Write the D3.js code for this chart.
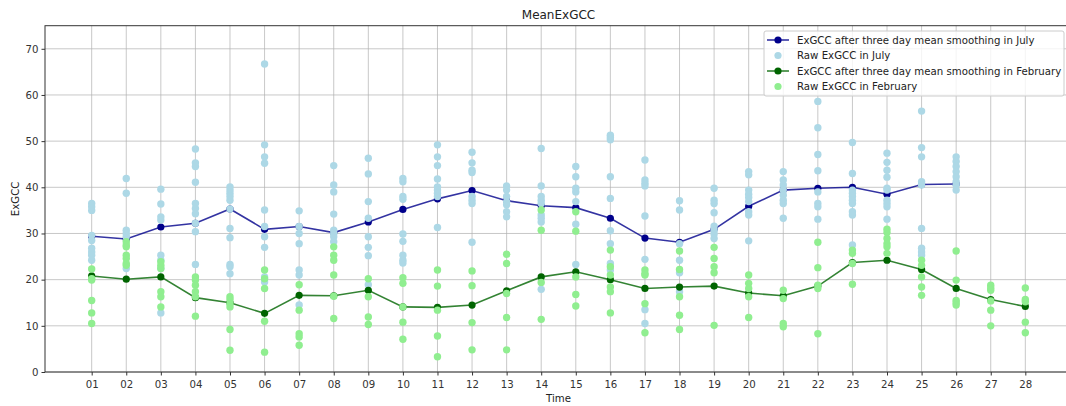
<!DOCTYPE html>
<html>
<head>
<meta charset="utf-8">
<script src="https://cdn.jsdelivr.net/npm/d3@7"></script>
<style>
  body { margin: 0; background: #fff; }
  svg { display: block; font-family: "DejaVu Sans", sans-serif; }
</style>
</head>
<body>
<svg id="chart"></svg>
<script>
const days = ["01","02","03","04","05","06","07","08","09","10","11","12","13","14",
  "15","16","17","18","19","20","21","22","23","24","25","26","27","28"];

const yTicks = [0, 10, 20, 30, 40, 50, 60, 70];

// smoothed means
const julySmooth = [29.4, 28.8, 31.4, 32.2, 35.3, 30.9, 31.5, 30.2, 32.5, 35.2, 37.5, 39.3, 37.1,
  36.0, 35.6, 33.3, 29.0, 28.1, 30.9, 35.9, 39.4, 39.8, 40.0, 38.5, 40.6, 40.7];
const febSmooth = [20.8, 20.1, 20.6, 16.1, 15.0, 12.7, 16.6, 16.5, 17.7, 14.1, 14.0, 14.5, 17.6,
  20.6, 21.7, 20.0, 18.1, 18.4, 18.6, 17.1, 16.5, 18.6, 23.7, 24.2, 22.2, 18.1, 15.7, 14.2];

// raw values per day
const julyRaw = [
  [36.5, 35.8, 35.0, 29.6, 28.5, 26.8, 26.0, 25.3, 24.2],
  [41.9, 38.7, 30.7, 30.0, 29.3, 22.4],
  [39.6, 36.4, 33.6, 32.9, 25.3, 24.2, 22.4, 12.8],
  [48.3, 45.3, 44.5, 41.1, 36.5, 35.4, 34.3, 32.2, 30.4, 23.3],
  [40.1, 39.4, 38.7, 38.0, 37.2, 35.3, 31.1, 29.1, 23.3, 22.8, 21.3],
  [66.7, 49.2, 46.6, 45.2, 35.1, 31.5, 29.3, 27.0, 20.6, 19.5],
  [34.9, 31.5, 30.0, 27.8, 22.1, 21.0, 14.5],
  [44.7, 40.5, 39.0, 34.2, 30.7, 30.0, 29.3, 28.2],
  [46.3, 42.9, 36.9, 33.3, 29.3, 27.0, 25.2, 18.9],
  [41.9, 41.2, 38.0, 37.4, 29.9, 28.3, 25.3, 24.2, 23.6],
  [49.2, 46.6, 44.7, 41.8, 40.1, 39.4, 38.7, 38.0, 31.3],
  [47.6, 45.3, 43.7, 43.2, 38.0, 37.2, 36.5, 28.1],
  [40.3, 39.4, 38.0, 36.9, 36.2, 34.7, 33.6],
  [48.4, 40.3, 38.0, 37.2, 36.5, 34.0, 33.3, 32.5, 17.9],
  [44.5, 42.3, 39.8, 39.0, 36.9, 32.0, 23.3],
  [51.3, 50.8, 50.3, 42.3, 37.6, 30.6, 27.8, 23.5, 22.1],
  [45.9, 41.6, 40.9, 40.3, 33.8, 24.4, 13.5, 10.5],
  [37.1, 35.1, 27.8, 24.2, 21.5, 17.4],
  [39.8, 37.2, 36.5, 34.5, 31.6, 30.7, 29.9, 28.9],
  [43.4, 42.7, 39.4, 38.5, 37.8, 36.9, 34.7, 34.0, 28.4],
  [43.4, 41.6, 40.5, 39.4, 38.3, 37.2, 36.5, 33.3],
  [58.6, 52.9, 47.1, 43.6, 39.0, 36.5, 35.8, 33.1],
  [49.7, 43.0, 39.4, 38.7, 38.0, 37.2, 36.5, 34.7, 34.0, 27.5],
  [47.4, 45.4, 43.7, 42.2, 39.8, 39.4, 37.2, 36.5, 35.8, 33.1],
  [56.5, 48.6, 46.6, 41.2, 40.5, 31.1, 26.8, 26.0, 25.3],
  [46.6, 45.6, 44.5, 43.4, 42.3, 41.2, 40.5, 39.4]
];

const febRaw = [
  [22.3, 20.2, 19.9, 15.5, 12.8, 10.5],
  [28.2, 27.5, 27.1, 25.3, 24.6, 23.5, 23.1],
  [23.9, 23.1, 22.4, 17.4, 16.3, 14.1],
  [20.6, 19.9, 18.8, 17.4, 16.3, 12.1],
  [16.3, 15.7, 14.8, 14.1, 9.2, 4.7],
  [22.1, 20.2, 18.1, 11.0, 4.3],
  [18.9, 13.4, 8.3, 7.6, 5.8],
  [27.1, 25.3, 24.2, 21.0, 16.4, 11.6],
  [20.2, 16.3, 11.9, 10.3],
  [20.4, 19.2, 14.1, 10.8, 7.1],
  [22.1, 18.6, 13.4, 7.8, 3.3],
  [21.9, 18.7, 10.7, 4.8],
  [25.5, 23.5, 17.0, 11.8, 4.8],
  [35.1, 30.7, 19.4, 11.4],
  [34.7, 30.5, 20.6, 16.8, 14.3],
  [26.4, 22.8, 21.0, 18.4, 17.4, 12.8],
  [22.1, 21.3, 21.0, 14.8, 8.5],
  [26.2, 22.2, 16.3, 12.3, 9.2],
  [27.0, 24.6, 22.8, 21.5, 10.1],
  [21.0, 19.2, 18.1, 16.3, 11.8],
  [17.7, 15.9, 10.5, 9.8],
  [28.1, 22.6, 18.8, 18.1, 8.3],
  [26.4, 25.7, 23.5, 19.0],
  [30.9, 30.2, 28.9, 27.8, 27.1, 25.7],
  [24.2, 23.1, 20.6, 18.4, 16.6],
  [26.2, 19.9, 15.5, 15.0, 14.5],
  [18.8, 18.2, 17.7, 15.4, 13.4, 10.0],
  [18.2, 15.7, 15.2, 10.8, 8.5]
];

const seriesNames = [
  "ExGCC after three day mean smoothing in July",
  "Raw ExGCC in July",
  "ExGCC after three day mean smoothing in February",
  "Raw ExGCC in February"
];

const W = 1066, H = 406;
const plot = { left: 45, right: 1072, top: 25.7, bottom: 372 };

const svg = d3.select("#chart").attr("width", W).attr("height", H);
svg.append("rect").attr("width", W).attr("height", H).attr("fill", "#fff");

// matplotlib-style 5% margin around days 1..28
const x = d3.scaleLinear().domain([1 - 1.35, 28 + 1.35]).range([plot.left, plot.right]);
const y = d3.scaleLinear().domain([0, 75]).range([plot.bottom, plot.top]);

// grid
svg.append("g")
  .selectAll("line")
  .data(days)
  .join("line")
  .attr("x1", (d, i) => x(i + 1)).attr("x2", (d, i) => x(i + 1))
  .attr("y1", plot.top).attr("y2", plot.bottom)
  .attr("stroke", "#b0b0b0").attr("stroke-opacity", 0.7).attr("stroke-width", 1);

svg.append("g")
  .selectAll("line")
  .data(yTicks)
  .join("line")
  .attr("x1", plot.left).attr("x2", plot.right)
  .attr("y1", (d) => y(d)).attr("y2", (d) => y(d))
  .attr("stroke", "#b0b0b0").attr("stroke-opacity", 0.7).attr("stroke-width", 1);

// axes
const xAxis = d3.axisBottom(x)
  .tickValues(days.map((d, i) => i + 1))
  .tickFormat((d) => days[d - 1])
  .tickSize(3.5).tickSizeOuter(0);
const yAxis = d3.axisLeft(y).tickValues(yTicks).tickSize(3.5).tickSizeOuter(0);

const gx = svg.append("g").attr("transform", `translate(0,${plot.bottom})`).call(xAxis);
const gy = svg.append("g").attr("transform", `translate(${plot.left},0)`).call(yAxis);
[gx, gy].forEach((g) => {
  g.select(".domain").remove();
  g.selectAll("line").attr("stroke", "#333");
  g.selectAll("text").attr("fill", "#333").style("font-size", "10.2px")
    .style("font-family", "DejaVu Sans, sans-serif");
});
gx.selectAll("text").attr("dy", "0.95em");

// frame
svg.append("rect")
  .attr("x", plot.left).attr("y", plot.top)
  .attr("width", plot.right - plot.left).attr("height", plot.bottom - plot.top)
  .attr("fill", "none").attr("stroke", "#333").attr("stroke-width", 1);

const line = d3.line().x((d, i) => x(i + 1)).y((d) => y(d));

function drawSmooth(vals, color) {
  svg.append("path")
    .datum(vals)
    .attr("d", line)
    .attr("fill", "none")
    .attr("stroke", color)
    .attr("stroke-opacity", 0.8)
    .attr("stroke-width", 1.6);
  svg.append("g")
    .selectAll("circle")
    .data(vals)
    .join("circle")
    .attr("cx", (d, i) => x(i + 1))
    .attr("cy", (d) => y(d))
    .attr("r", 3.6)
    .attr("fill", color);
}

function drawRaw(groups, color) {
  const pts = groups.flatMap((g, i) => g.map((v) => [i + 1, v]));
  svg.append("g")
    .selectAll("circle")
    .data(pts)
    .join("circle")
    .attr("cx", (d) => x(d[0]))
    .attr("cy", (d) => y(d[1]))
    .attr("r", 3.7)
    .attr("fill", color);
}

drawSmooth(julySmooth, "darkblue");
drawRaw(julyRaw, "lightblue");
drawSmooth(febSmooth, "darkgreen");
drawRaw(febRaw, "lightgreen");

// title and labels
const midX = (plot.left + plot.right) / 2;
svg.append("text")
  .attr("x", midX).attr("y", 19)
  .attr("text-anchor", "middle")
  .style("font-size", "12px").attr("fill", "#222")
  .text("MeanExGCC");

svg.append("text")
  .attr("x", midX).attr("y", 402)
  .attr("text-anchor", "middle")
  .style("font-size", "10.2px").attr("fill", "#222")
  .text("Time");

svg.append("text")
  .attr("transform", `translate(19,${(plot.top + plot.bottom) / 2}) rotate(-90)`)
  .attr("text-anchor", "middle")
  .style("font-size", "10.2px").attr("fill", "#222")
  .text("ExGCC");

// legend
const legend = svg.append("g").attr("transform", "translate(764,31)");
legend.append("rect")
  .attr("width", 300).attr("height", 65).attr("rx", 2)
  .attr("fill", "#fff").attr("fill-opacity", 0.8)
  .attr("stroke", "#ccc");

const legendItems = [
  { name: seriesNames[0], color: "darkblue", line: true },
  { name: seriesNames[1], color: "lightblue", line: false },
  { name: seriesNames[2], color: "darkgreen", line: true },
  { name: seriesNames[3], color: "lightgreen", line: false }
];

const li = legend.selectAll("g")
  .data(legendItems)
  .join("g")
  .attr("transform", (d, i) => `translate(0,${9 + i * 15.5})`);

li.filter((d) => d.line).append("line")
  .attr("x1", 3).attr("x2", 25)
  .attr("stroke", (d) => d.color).attr("stroke-opacity", 0.8).attr("stroke-width", 1.6);
li.append("circle").attr("cx", 14).attr("r", 3.6).attr("fill", (d) => d.color);
li.append("text")
  .attr("x", 33).attr("dy", "0.35em")
  .style("font-size", "10.2px").attr("fill", "#222")
  .text((d) => d.name);
</script>
</body>
</html>
